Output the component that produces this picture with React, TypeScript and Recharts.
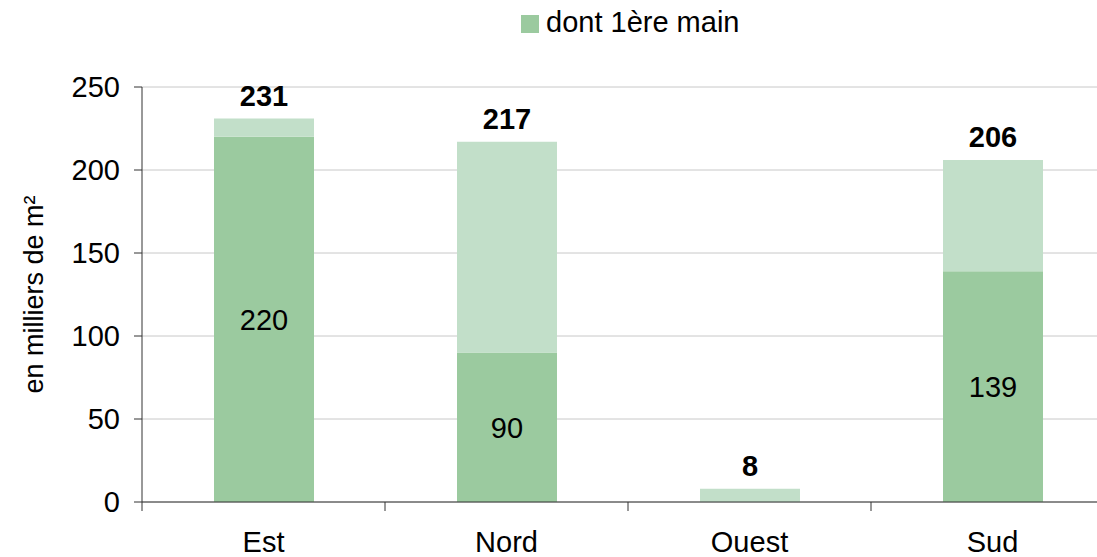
import React from "react";
import {
  BarChart,
  Bar,
  XAxis,
  YAxis,
  CartesianGrid,
  LabelList,
  Label
} from "recharts";

const REGIONS = ["Est", "Nord", "Ouest", "Sud"];
const PREMIERE_MAIN = [220, 90, 0, 139];
const TOTALS = [231, 217, 8, 206];
const Y_TICKS = [0, 50, 100, 150, 200, 250];

const DARK = "#9BCA9F";
const LIGHT = "#C2DFC9";
const FONT = "'Liberation Sans', Arial, sans-serif";
const FS = 29;

const CHART_W = 1130;
const CHART_H = 557;
const MARGIN = { top: 87, right: 16, bottom: 0, left: 0 };
const Y_AXIS_W = 142;
const X_AXIS_H = 55;
const BAND = (CHART_W - MARGIN.left - MARGIN.right - Y_AXIS_W) / REGIONS.length;

const data = REGIONS.map((name, i) => ({
  name,
  premiere: PREMIERE_MAIN[i],
  reste: TOTALS[i] - PREMIERE_MAIN[i],
  total: TOTALS[i]
}));

function CategoryTick(props: any) {
  const { x, y, payload } = props;
  return (
    <g>
      <line x1={x - BAND / 2} x2={x - BAND / 2} y1={y - 9} y2={y} stroke="#333" />
      <text x={x} y={y + 41} textAnchor="middle" fill="#000" fontSize={FS} fontFamily={FONT}>
        {payload.value}
      </text>
    </g>
  );
}

function YTitle(props: any) {
  const vb = props.viewBox;
  const cy = vb.y + vb.height / 2;
  return (
    <text
      x={34}
      y={cy}
      transform={`rotate(-90, 34, ${cy})`}
      textAnchor="middle"
      dominantBaseline="central"
      fontSize={27}
      fontFamily={FONT}
      fill="#000"
    >
      en milliers de m²
    </text>
  );
}

export default function App() {
  return (
    <div
      style={{
        position: "absolute",
        left: 0,
        top: 0,
        width: 1097,
        height: 557,
        overflow: "hidden",
        background: "#fff",
        fontFamily: FONT
      }}
    >
      <div
        style={{
          position: "absolute",
          left: 521,
          top: 15,
          width: 18,
          height: 18,
          background: DARK
        }}
      />
      <div
        style={{
          position: "absolute",
          left: 546,
          top: 5,
          fontSize: FS,
          lineHeight: "34px",
          color: "#000",
          whiteSpace: "nowrap"
        }}
      >
        dont 1ère main
      </div>
      <BarChart width={CHART_W} height={CHART_H} data={data} margin={MARGIN}>
        <CartesianGrid horizontal vertical={false} stroke="#c8c8c8" />
        <XAxis
          dataKey="name"
          height={X_AXIS_H}
          stroke="#333"
          tickLine={false}
          tickSize={9}
          tickMargin={0}
          tick={<CategoryTick />}
          interval={0}
        />
        <YAxis
          width={Y_AXIS_W}
          domain={[0, 250]}
          ticks={Y_TICKS}
          interval={0}
          stroke="#333"
          tickSize={8}
          tickMargin={14}
          tick={{ fill: "#000", fontSize: FS, fontFamily: FONT }}
        >
          <Label content={<YTitle />} />
        </YAxis>
        <Bar dataKey="premiere" stackId="a" fill={DARK} barSize={100} isAnimationActive={false}>
          <LabelList
            dataKey="premiere"
            position="center"
            formatter={(v: any) => (v ? v : "")}
            fill="#000"
            fontSize={FS}
            fontFamily={FONT}
          />
        </Bar>
        <Bar dataKey="reste" stackId="a" fill={LIGHT} barSize={100} isAnimationActive={false}>
          <LabelList
            dataKey="total"
            position="top"
            offset={13}
            fill="#000"
            fontSize={FS}
            fontWeight="bold"
            fontFamily={FONT}
          />
        </Bar>
      </BarChart>
    </div>
  );
}
